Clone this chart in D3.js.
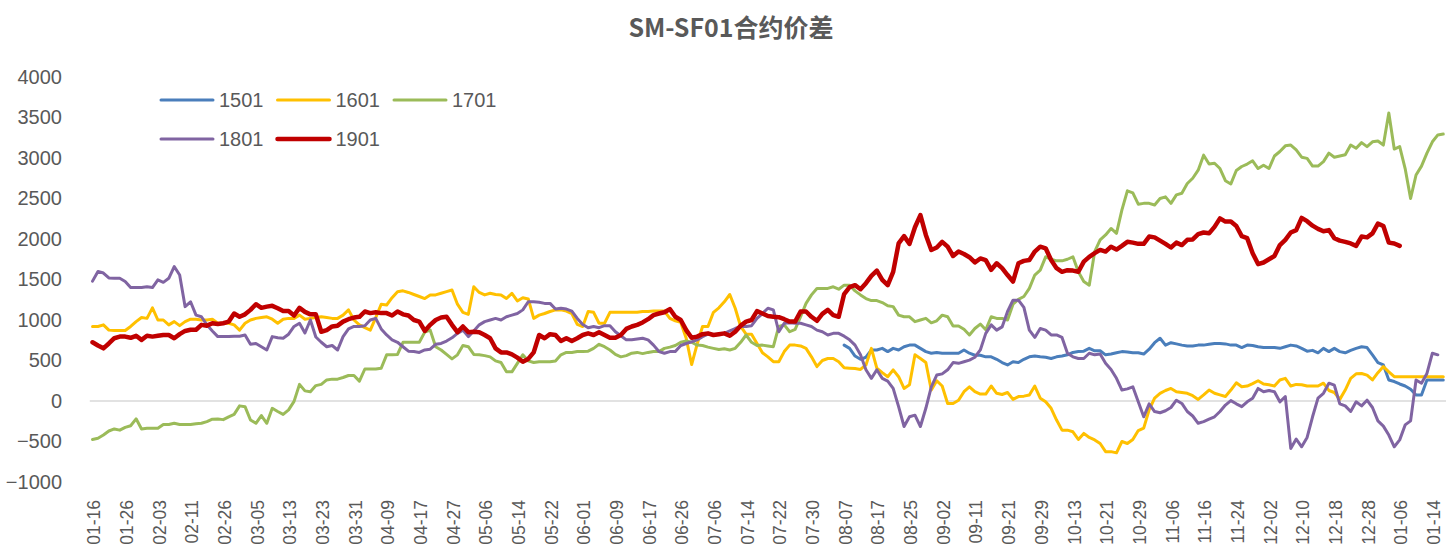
<!DOCTYPE html>
<html>
<head>
<meta charset="utf-8">
<script src="https://cdn.jsdelivr.net/npm/d3@7/dist/d3.min.js"></script>
<style>
  body { margin: 0; background: #fff; }
  svg text { fill: #595959; }
</style>
</head>
<body>
<script>
// x categories: one per trading day, a label on every 6th day
var tickLabels = ["01-16","01-26","02-03","02-11","02-26","03-05","03-13","03-23","03-31","04-09",
  "04-17","04-27","05-06","05-14","05-22","06-01","06-09","06-17","06-26","07-06","07-14",
  "07-22","07-30","08-07","08-17","08-25","09-02","09-11","09-21","09-29","10-13","10-21",
  "10-29","11-06","11-16","11-24","12-02","12-10","12-18","12-28","01-06","01-14"]
var dayCount = 249
var labelEvery = 6
var yTicks = [-1000,-500,0,500,1000,1500,2000,2500,3000,3500,4000]

var s1501Start = 138
var s1501 = [690,650,555,515,540,630,630,650,610,650,630,670,690,690,650,610,590,600,590,590,590,590,630,590,565,565,545,
  545,515,475,445,485,475,515,545,555,545,540,525,545,555,570,600,610,615,650,620,620,570,580,595,610,605,595,595,580,640,720,775,690,720,705,690,680,680,690,690,700,710,
  710,705,690,690,660,690,685,670,660,660,660,650,670,690,680,650,615,625,595,650,610,650,610,595,625,650,670,660,570,475,445,260,240,210,185,145,75,75,260,260,260,260]

var s1601 = [920,920,940,875,870,870,870,920,980,1030,1020,1150,1000,1000,940,980,930,980,1010,1010,1000,1000,1010,960,960,960,940,875,960,1000,1020,1030,1040,1010,960,1010,1020,1020,1060,1010,1020,
  1030,1040,1030,1020,1020,1060,1125,1000,940,905,875,1030,1195,1185,1275,1350,1360,1340,1315,1290,1265,1310,1310,1330,1350,1370,1195,1095,1070,1410,1340,1310,1330,1315,1310,1265,1330,1235,1275,1260,1020,
  1060,1080,1105,1125,1125,1110,1080,945,920,1105,1095,960,960,1095,1095,1095,1095,1095,1095,1105,1105,1110,1110,1110,1020,990,970,775,450,700,920,920,1095,1150,1225,1315,1145,920,825,825,710,
  595,545,485,485,610,690,690,680,650,545,425,500,525,525,485,410,405,400,390,445,650,405,350,300,385,300,155,200,570,525,475,135,250,185,-30,-30,10,115,175,115,85,85,
  185,95,80,105,20,55,60,75,185,35,-10,-90,-235,-360,-360,-380,-475,-400,-450,-480,-525,-625,-625,-640,-500,-525,-475,-365,-335,-110,35,95,130,155,115,105,95,65,20,75,135,95,
  75,55,135,225,175,185,215,250,210,200,185,260,280,185,205,200,185,185,185,220,130,105,20,135,280,335,340,320,260,350,425,360,300,300,300,300,300,300,300,300,300,300]

var s1701 = [-475,-460,-420,-370,-345,-360,-325,-305,-220,-345,-337,-337,-337,-290,-290,-275,-290,-290,-290,-280,-275,-255,-225,-222,-230,-195,-165,-60,-70,-235,-275,-180,-275,-90,-130,-165,-110,-5,205,125,115,
  190,205,260,270,270,290,315,315,245,395,395,395,405,570,570,575,725,725,725,725,850,875,670,630,575,520,570,685,670,575,570,560,545,495,475,360,360,465,570,495,475,
  485,485,485,495,570,600,600,610,610,615,650,700,670,630,575,545,560,590,600,585,600,610,610,650,665,685,725,740,725,690,685,665,650,635,645,630,650,725,815,725,685,
  690,680,670,920,940,855,885,1040,1205,1310,1390,1390,1390,1410,1380,1430,1430,1360,1310,1265,1240,1240,1215,1175,1165,1060,1040,1040,980,1000,1020,965,990,1060,1040,925,925,885,815,895,950,880,
  1040,1020,1020,1000,1195,1255,1290,1390,1555,1615,1780,1750,1730,1730,1750,1780,1595,1475,1430,1845,1990,2050,2130,2070,2360,2595,2570,2430,2440,2440,2420,2500,2520,2440,2545,2565,2685,2750,2850,3035,2925,2935,
  2870,2720,2680,2845,2895,2925,2965,2870,2910,2870,3025,3080,3150,3160,3100,3010,2995,2900,2900,2955,3060,3010,3025,3040,3160,3120,3190,3140,3200,3210,3160,3555,3110,3140,2870,2500,2790,2900,3060,3200,3285,3295]

var s1801 = [1480,1600,1580,1520,1515,1515,1475,1400,1400,1400,1410,1400,1495,1465,1515,1660,1555,1165,1225,1060,1040,940,865,795,795,795,800,800,815,700,710,670,630,795,780,775,825,920,960,840,1000,
  790,725,670,685,630,795,890,920,920,930,1000,1020,890,815,755,725,670,615,610,600,630,640,700,710,740,780,835,875,795,865,940,980,1000,1020,1000,1040,1060,1080,1125,1225,1225,
  1220,1205,1205,1135,1145,1135,1110,1020,945,905,920,905,930,930,855,805,755,755,765,775,755,690,610,590,610,610,685,710,730,755,795,825,815,825,835,865,895,920,920,930,1020,
  1080,1145,1125,855,960,965,960,960,940,920,875,855,815,835,835,800,755,690,570,385,280,385,280,245,155,-70,-315,-195,-175,-315,-90,175,320,335,385,475,465,485,505,540,630,835,
  940,875,915,1105,1245,1245,1155,875,785,895,875,815,815,785,590,545,525,525,590,570,580,465,390,280,135,150,175,-10,-195,-35,-130,-145,-120,-80,10,-30,-130,-185,-275,-255,-225,-195,
  -130,-50,5,-35,-70,-10,35,155,115,130,115,-10,55,-585,-470,-565,-450,-195,35,95,220,195,-35,-60,-130,-10,-60,10,-80,-245,-310,-420,-565,-480,-295,-245,260,220,340,590,570]

var s1901 = [725,685,650,710,775,795,795,780,805,755,805,795,805,815,815,775,825,865,880,880,940,930,960,950,960,980,1080,1040,1070,1125,1195,1150,1165,1175,1145,1110,1110,1055,1150,1100,1070,
  1070,855,875,920,930,980,1010,1030,1040,1105,1085,1095,1085,1085,1055,1105,1070,1055,1000,980,865,940,1000,1030,1040,940,850,920,850,855,850,815,775,650,600,600,575,535,485,520,600,
  815,775,825,815,740,775,740,775,815,835,815,850,815,780,780,815,890,920,940,970,1010,1060,1080,1095,1135,1040,1000,875,780,795,825,835,815,825,835,805,855,930,980,1000,1110,
  1080,1050,1040,1035,1010,980,980,1105,1105,1040,990,1075,1125,1060,1040,1320,1405,1430,1380,1455,1545,1610,1495,1430,1595,1945,2035,1940,2145,2295,2050,1865,1895,1965,1905,1790,1845,1815,1775,1710,1760,1740,
  1620,1700,1640,1555,1475,1700,1730,1740,1845,1905,1885,1740,1640,1595,1615,1610,1595,1720,1780,1825,1865,1845,1905,1870,1915,1965,1955,1940,1940,2030,2020,1980,1940,1895,1955,1925,1990,1995,2060,2080,2070,2150,
  2255,2215,2215,2160,2035,2010,1825,1690,1710,1750,1790,1925,1990,2080,2110,2260,2220,2165,2125,2095,2110,2010,1980,1965,1945,1915,2030,2020,2070,2190,2160,1955,1945,1915]

var seriesNames = ["1501","1601","1701","1801","1901"]
var seriesColors = ["#4A7EBB","#FFC000","#9BBB59","#8064A2","#C00000"]

// pad 1501 so every series is indexed by day
var pad1501 = []
for (var k=0;k<s1501Start;k++){ pad1501.push(null) }
var series = [pad1501.concat(s1501), s1601, s1701, s1801, s1901]

var width = 1450, height = 556
var svg = d3.select("body").append("svg")
  .attr("width", width)
  .attr("height", height)

var x = d3.scaleLinear()
  .domain([-0.5, dayCount - 0.5])
  .range([89.8, 1446])
var y = d3.scaleLinear()
  .domain([-1000, 4000])
  .range([482, 77])

// title
svg.append("text")
  .attr("x", 731)
  .attr("y", 37)
  .attr("text-anchor", "middle")
  .style("font-family", "'Noto Sans CJK SC', sans-serif")
  .style("font-weight", "bold")
  .style("font-size", "25px")
  .text("SM-SF01合约价差")

// y axis labels, no line
var yAxis = d3.axisLeft(y).tickValues(yTicks).tickFormat(d3.format("d")).tickSize(0).tickPadding(0)
var yg = svg.append("g").attr("transform", "translate(62,0)").call(yAxis)
yg.select(".domain").remove()
yg.selectAll("text")
  .style("font-family", "'Liberation Sans', Arial, sans-serif")
  .style("font-size", "20px")
  .style("fill", "#595959")

// category axis at zero
svg.append("line")
  .attr("x1", x.range()[0]).attr("x2", x.range()[1])
  .attr("y1", y(0)).attr("y2", y(0))
  .attr("stroke", "#D9D9D9")
  .attr("stroke-width", 1.3)

// x labels, rotated
svg.append("g").selectAll("text")
  .data(tickLabels)
  .enter().append("text")
  .attr("transform", function(d,i){ return "translate(" + (x(i*labelEvery)+1.5) + ",500) rotate(-90)" })
  .attr("dy", "0.35em")
  .attr("text-anchor", "end")
  .style("font-family", "'Liberation Sans', Arial, sans-serif")
  .style("font-size", "17.5px")
  .text(function(d){ return d })

// lines
var line = d3.line()
  .defined(function(d){ return d != null })
  .x(function(d,i){ return x(i) })
  .y(function(d){ return y(d) })

series.forEach(function(s, k){
  svg.append("path")
    .datum(s)
    .attr("d", line)
    .attr("fill", "none")
    .attr("stroke", seriesColors[k])
    .attr("stroke-width", seriesNames[k]=="1901" ? 4.5 : 3)
    .attr("stroke-linejoin", "round")
    .attr("stroke-linecap", "round")
})

// legend
var legend = svg.append("g")
seriesNames.forEach(function(name, k){
  var col = k % 3, row = Math.floor(k / 3)
  var lx = 161 + col*116.5, ly = 100 + row*39
  legend.append("line")
    .attr("x1", lx).attr("x2", lx+52)
    .attr("y1", ly).attr("y2", ly)
    .attr("stroke", seriesColors[k])
    .attr("stroke-width", name=="1901" ? 4.5 : 3)
    .attr("stroke-linecap", "round")
  legend.append("text")
    .attr("x", lx+58)
    .attr("y", ly)
    .attr("dy", "0.36em")
    .style("font-family", "'Liberation Sans', Arial, sans-serif")
    .style("font-size", "20px")
    .text(name)
})
</script>
</body>
</html>
